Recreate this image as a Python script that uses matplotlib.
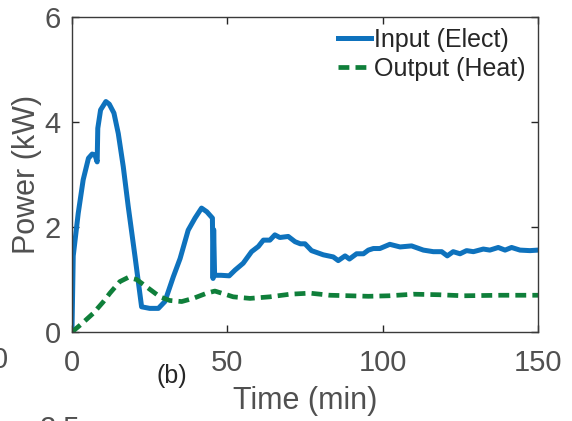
import numpy as np
import matplotlib
matplotlib.use("Agg")
import matplotlib.pyplot as plt

plt.rcParams['font.family'] = ['Liberation Sans', 'DejaVu Sans']

# potencia de entrada (eléctrica)
t_in = [0, 0.4, 2.0, 3.6, 5.3, 6.5, 7.4, 8.1, 8.3, 9.2, 10.9, 12.0, 13.5, 14.9,
        16.5, 18.1, 20.3, 22.4, 25.0, 27.8, 29.9, 32.6, 34.8, 37.4, 39.6, 41.7,
        43.4, 45.2, 45.4, 45.6, 45.9, 48.0, 50.6, 52.5, 55.1, 57.8, 60.0, 61.6,
        63.7, 65.3, 66.9, 69.6, 71.8, 73.5, 75.0, 77.1, 80.9, 84.1, 85.7, 87.9,
        89.3, 91.6, 93.8, 95.4, 97.0, 99.1, 102.3, 105.6, 109.3, 113.1, 116.3,
        119.0, 120.8, 122.7, 124.9, 127.0, 129.2, 132.4, 134.5, 137.2, 139.4,
        141.5, 144.2, 147.4, 150.0]
p_in = [0.05, 1.45, 2.26, 2.90, 3.31, 3.39, 3.37, 3.24, 3.88, 4.23, 4.39, 4.34,
        4.17, 3.78, 3.15, 2.39, 1.43, 0.48, 0.45, 0.45, 0.58, 1.05, 1.40, 1.94,
        2.17, 2.36, 2.29, 2.17, 1.02, 1.95, 1.08, 1.08, 1.07, 1.18, 1.31, 1.53,
        1.63, 1.75, 1.75, 1.85, 1.80, 1.82, 1.72, 1.68, 1.68, 1.55, 1.47, 1.43,
        1.36, 1.45, 1.39, 1.49, 1.49, 1.56, 1.59, 1.59, 1.67, 1.62, 1.64, 1.56,
        1.53, 1.53, 1.45, 1.53, 1.49, 1.55, 1.53, 1.58, 1.56, 1.61, 1.56, 1.61,
        1.56, 1.55, 1.56]

# potencia de salida (calor)
t_out = [0, 3, 6.9, 10, 12.2, 15.4, 18.1, 20.8, 24.0, 28.3, 31.5, 35.3, 39.0,
         43.4, 46.0, 51.9, 57.3, 63.7, 70.2, 76.6, 83.0, 89.5, 95.4, 102,
         109.9, 118, 126, 138, 150]
p_out = [0, 0.15, 0.36, 0.57, 0.74, 0.96, 1.04, 1.00, 0.86, 0.67, 0.60, 0.58,
         0.64, 0.74, 0.78, 0.67, 0.64, 0.67, 0.72, 0.74, 0.70, 0.69, 0.68, 0.69,
         0.72, 0.71, 0.69, 0.70, 0.70]

x_ticks = [0, 50, 100, 150]
y_ticks = [0, 2, 4, 6]

W, H = 572, 421
gris = '#505050'
oscuro = '#262626'

fig = plt.figure(figsize=(W / 100, H / 100), dpi=100)
ax = fig.add_axes([72 / W, 1 - 332 / H, (538 - 72) / W, (332 - 17) / H])

ax.plot(t_in, p_in, color='#0e72bd', lw=3.6, label='Input (Elect)',
        solid_joinstyle='round')
ax.plot(t_out, p_out, color='#0f7f3a', lw=3.4, ls=(0, (2.3, 1.3)),
        label='Output (Heat)')

ax.set_xlim(0, 150)
ax.set_ylim(0, 6)
ax.set_xticks(x_ticks)
ax.set_yticks(y_ticks)
ax.tick_params(direction='in', length=5, width=1, top=True, right=True,
               labelsize=21, colors=oscuro, labelcolor=gris)
ax.tick_params(axis='x', pad=12)
ax.tick_params(axis='y', pad=8)
for s in ax.spines.values():
    s.set_color('#3a3a3a')
    s.set_linewidth(1)

ax.set_xlabel('Time (min)', fontsize=22, color=gris, labelpad=7)
ax.set_ylabel('Power (kW)', fontsize=22, color=gris, labelpad=2)

ax.legend(loc='upper left', bbox_to_anchor=(338 / W, 1 - 28 / H),
          bbox_transform=fig.transFigure, frameon=False, fontsize=18,
          handlelength=1.3, handletextpad=0.15, labelspacing=0.2,
          borderpad=0, borderaxespad=0, labelcolor=oscuro)

# restos de los paneles vecinos
fig.text(172 / W, 1 - 376 / H, '(b)', fontsize=18, color=oscuro,
         ha='center', va='center')
fig.text(0 / W, 1 - 360 / H, '0', fontsize=21, color=gris,
         ha='center', va='center')
fig.text(60 / W, 1 - 415 / H, '2.5', fontsize=21, color=gris,
         ha='center', va='top')

fig.savefig('out.png', dpi=100)
